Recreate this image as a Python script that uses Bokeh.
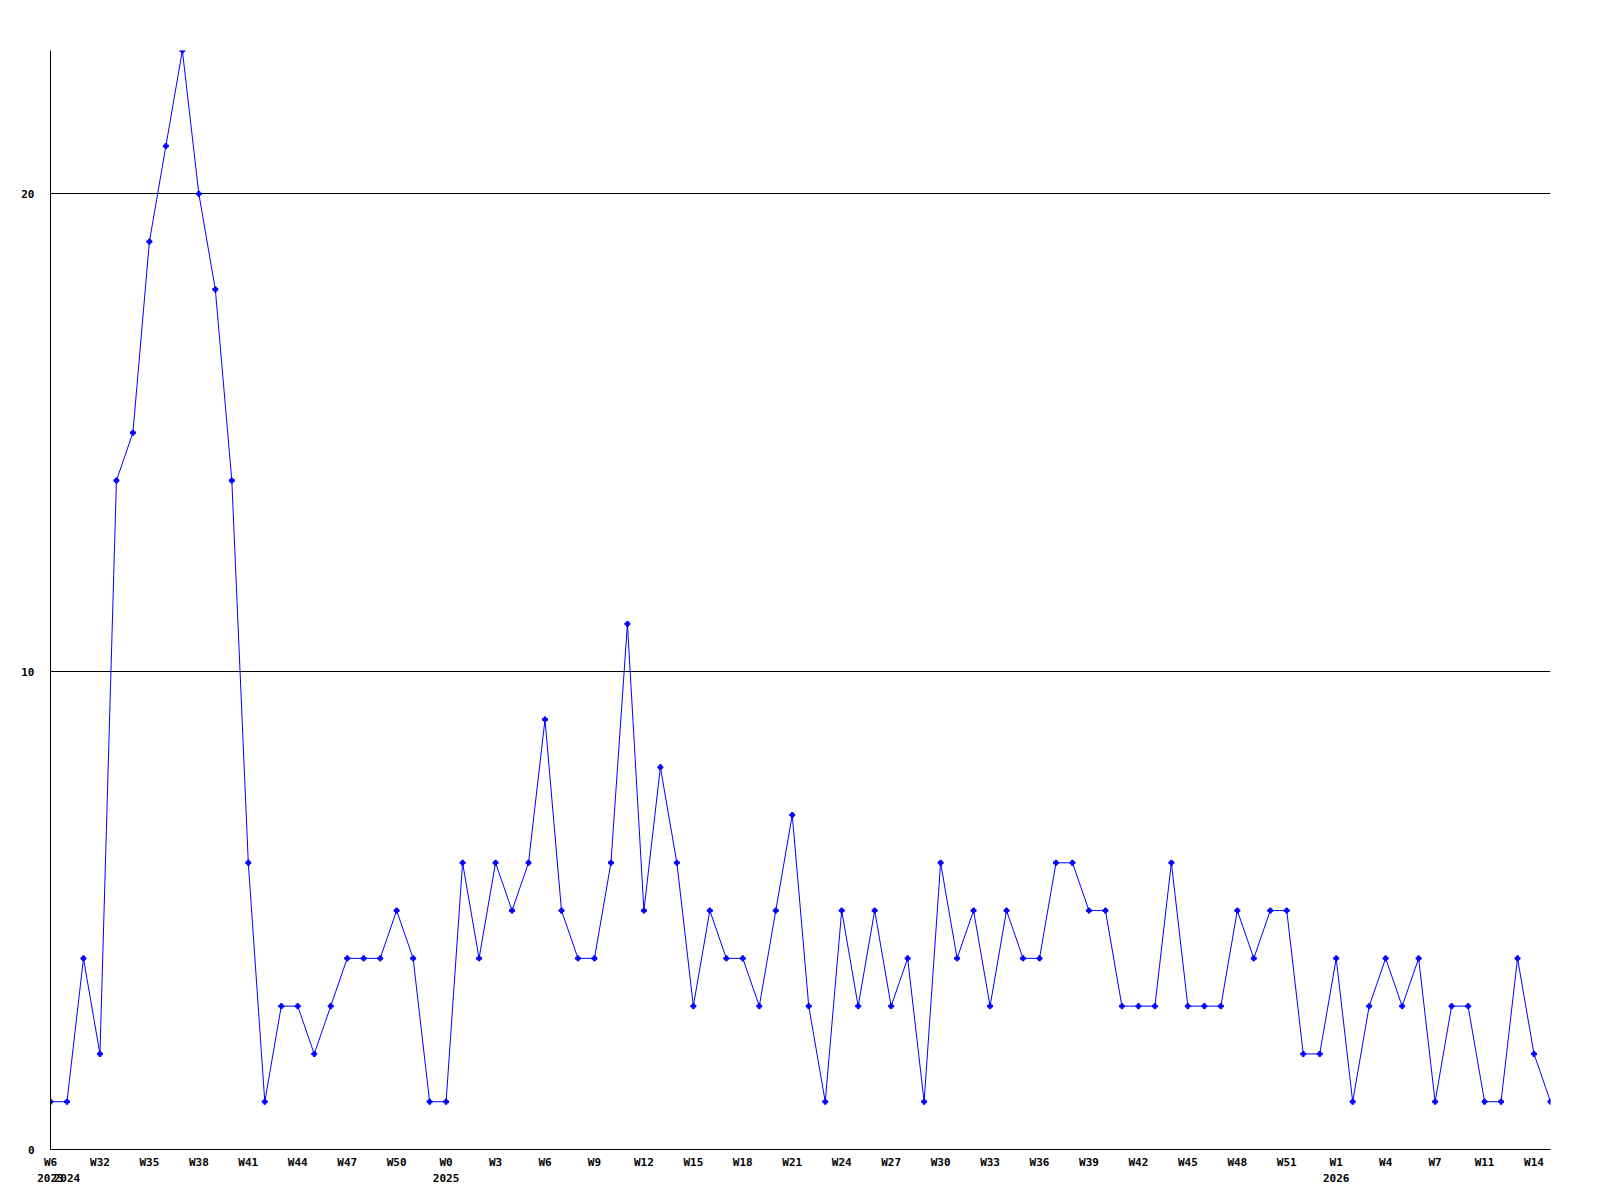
from bokeh.plotting import figure
from bokeh.models import Range1d, FixedTicker, LinearAxis
from bokeh.embed import file_html
from bokeh.resources import INLINE

# weekly counts, one per point (evenly spaced by index)
values = [1, 1, 4, 2, 14, 15, 19, 21, 23, 20, 18, 14, 6, 1, 3, 3, 2, 3, 4, 4,
          4, 5, 4, 1, 1, 6, 4, 6, 5, 6, 9, 5, 4, 4, 6, 11, 5, 8, 6, 3,
          5, 4, 4, 3, 5, 7, 3, 1, 5, 3, 5, 3, 4, 1, 6, 4, 5, 3, 5, 4,
          4, 6, 6, 5, 5, 3, 3, 3, 6, 3, 3, 3, 5, 4, 5, 5, 2, 2, 4, 1,
          3, 4, 3, 4, 1, 3, 3, 1, 1, 4, 2, 1]

week_tick_pos = [0, 3, 6, 9, 12, 15, 18, 21, 24, 27, 30, 33, 36, 39, 42, 45,
                 48, 51, 54, 57, 60, 63, 66, 69, 72, 75, 78, 81, 84, 87, 90]
week_tick_labels = ["W6", "W32", "W35", "W38", "W41", "W44", "W47", "W50", "W0",
                    "W3", "W6", "W9", "W12", "W15", "W18", "W21", "W24", "W27",
                    "W30", "W33", "W36", "W39", "W42", "W45", "W48", "W51", "W1",
                    "W4", "W7", "W11", "W14"]

year_tick_pos = [0, 1, 24, 78]
year_tick_labels = ["2023", "2024", "2025", "2026"]

y_ticks = [0, 10, 20]
y_grid = [10, 20]
y_max = 23

x = list(range(len(values)))

FONT = "DejaVu Sans Mono"

p = figure(frame_width=1500, frame_height=1099,
           x_range=Range1d(0, len(values) - 1), y_range=Range1d(0, y_max),
           output_backend="svg", toolbar_location=None,
           min_border_left=50, min_border_right=34,
           min_border_top=50, min_border_bottom=35)
p.outline_line_color = None
p.background_fill_color = "white"

p.line(x, values, line_color="#0000ff", line_width=1)
p.scatter(x, values, marker="plus", size=5, fill_color="#0000ff", line_color="#0000ff")

def style_axis(ax):
    ax.major_tick_out = 0
    ax.major_tick_in = 0
    ax.minor_tick_out = 0
    ax.minor_tick_in = 0
    ax.major_label_text_font = FONT
    ax.major_label_text_font_style = "bold"
    ax.major_label_text_font_size = "11px"
    ax.major_label_text_color = "black"
    ax.axis_line_color = "black"
    ax.axis_line_width = 1

xa = p.xaxis[0]
style_axis(xa)
xa.ticker = FixedTicker(ticks=week_tick_pos)
xa.major_label_overrides = {k: v for k, v in zip(week_tick_pos, week_tick_labels)}
xa.major_label_standoff = 6

ya = p.yaxis[0]
style_axis(ya)
ya.ticker = FixedTicker(ticks=y_ticks)
ya.major_label_standoff = 16

year_axis = LinearAxis(ticker=FixedTicker(ticks=year_tick_pos))
style_axis(year_axis)
year_axis.axis_line_color = None
year_axis.major_label_overrides = {k: v for k, v in zip(year_tick_pos, year_tick_labels)}
year_axis.major_label_standoff = 2
p.add_layout(year_axis, "below")

p.xgrid.visible = False
p.ygrid.ticker = FixedTicker(ticks=y_grid)
p.ygrid.grid_line_color = "black"
p.ygrid.grid_line_width = 1
p.ygrid.grid_line_alpha = 1.0

open("out.html", "w").write(file_html(p, INLINE))
